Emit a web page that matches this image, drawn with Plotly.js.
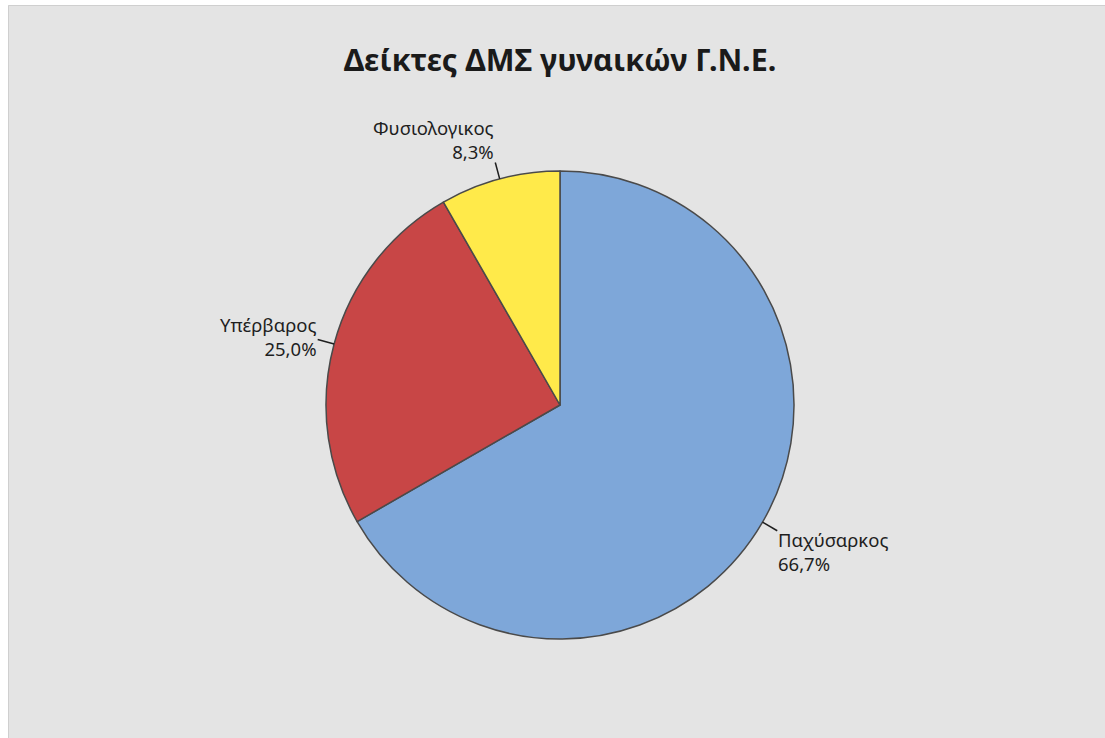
<!DOCTYPE html>
<html>
<head>
<meta charset="utf-8">
<script src="https://cdn.plot.ly/plotly-3.0.1.min.js"></script>
<style>html,body{margin:0;padding:0;background:#fff;}#chart{width:1105px;height:738px;}</style>
</head>
<body>
<div id="chart"></div>
<script>
// ---- data ----
const categories = ['Παχύσαρκος', 'Υπέρβαρος', 'Φυσιολογικος'];
const values = [66.7, 25.0, 8.3];
const colors = ['#7EA7D9', '#C84646', '#FFEA4A'];
const chartTitle = 'Δείκτες ΔΜΣ γυναικών Γ.Ν.Ε.';

// ---- layout geometry ----
const W = 1105, H = 738;
const CX = 560, CY = 405, R = 234;
const LEAD = 17;
const labelFont = {family: 'Noto Sans, Open Sans, sans-serif', size: 18.5, color: '#1e1e1e'};

const total = values.reduce((a, b) => a + b, 0);
const shapes = [];
const annotations = [];

// frame: white margin on left/top with a light border
shapes.push({type: 'rect', xref: 'paper', yref: 'paper', x0: 0, x1: 8 / W, y0: 0, y1: 1, fillcolor: '#ffffff', line: {width: 0}, layer: 'above'});
shapes.push({type: 'rect', xref: 'paper', yref: 'paper', x0: 0, x1: 1, y0: 1 - 5 / H, y1: 1, fillcolor: '#ffffff', line: {width: 0}, layer: 'above'});
shapes.push({type: 'line', xref: 'paper', yref: 'paper', x0: 8.5 / W, x1: 8.5 / W, y0: 0, y1: 1 - 5.5 / H, line: {color: '#CFCFCF', width: 1}});
shapes.push({type: 'line', xref: 'paper', yref: 'paper', x0: 8.5 / W, x1: 1, y0: 1 - 5.5 / H, y1: 1 - 5.5 / H, line: {color: '#CFCFCF', width: 1}});

let cum = 0;
values.forEach((v, i) => {
  const mid = (cum + v / 2) / total * 2 * Math.PI;
  cum += v;
  const s = Math.sin(mid), c = Math.cos(mid);
  const ex = CX + R * s, ey = CY - R * c;
  const lx = CX + (R + LEAD) * s, ly = CY - (R + LEAD) * c;
  shapes.push({type: 'line', xref: 'paper', yref: 'paper',
    x0: ex / W, y0: 1 - ey / H, x1: lx / W, y1: 1 - ly / H,
    line: {color: '#1e1e1e', width: 1.5}});
  const xanchor = s >= 0 ? 'left' : 'right';
  let yanchor, ty;
  if (c > 0.7) { yanchor = 'bottom'; ty = ly + 3; }
  else if (c > 0) { yanchor = 'middle'; ty = ly - 3; }
  else { yanchor = 'top'; ty = ly - 5; }
  const pct = (v / total * 100).toFixed(1).replace('.', ',') + '%';
  annotations.push({xref: 'paper', yref: 'paper', x: lx / W, y: 1 - ty / H,
    xanchor: xanchor, yanchor: yanchor, align: xanchor,
    text: categories[i] + '<br>' + pct, showarrow: false, borderpad: 0,
    font: labelFont});
});

const trace = {
  type: 'pie',
  labels: categories,
  values: values,
  sort: false,
  direction: 'clockwise',
  rotation: 0,
  textinfo: 'none',
  hoverinfo: 'label+percent',
  marker: {colors: colors, line: {color: '#4A4A4A', width: 1.5}},
  domain: {x: [(CX - R) / W, (CX + R) / W], y: [(H - CY - R) / H, (H - CY + R) / H]},
  showlegend: false
};

const layout = {
  width: W, height: H,
  margin: {l: 0, r: 0, t: 0, b: 0, pad: 0},
  paper_bgcolor: '#E4E4E4',
  title: {text: '<b>' + chartTitle + '</b>', x: CX / W, xanchor: 'center', y: 1 - 60 / H, yanchor: 'middle',
    font: {family: 'Noto Sans, Open Sans, sans-serif', size: 30.5, color: '#1a1a1a'}},
  shapes: shapes,
  annotations: annotations,
  showlegend: false
};

Plotly.newPlot('chart', [trace], layout, {displayModeBar: false, staticPlot: true});
</script>
</body>
</html>
